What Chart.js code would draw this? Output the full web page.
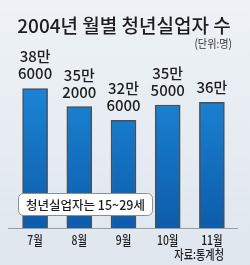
<!DOCTYPE html>
<html>
<head>
<meta charset="utf-8">
<script src="https://cdn.jsdelivr.net/npm/chart.js@4"></script>
<style>
  html, body { margin: 0; padding: 0; background: #e6ebf1; }
  #wrap { width: 250px; height: 265px; position: relative; }
</style>
</head>
<body>
<div id="wrap"><canvas id="chart" width="250" height="265"></canvas></div>
<script>
const months = ['7월', '8월', '9월', '10월', '11월'];
const values = [386000, 352000, 326000, 355000, 360000];
const valueLabels = [['38만', '6000'], ['35만', '2000'], ['32만', '6000'], ['35만', '5000'], ['36만']];

const FONT = '"Noto Sans CJK KR", "Noto Sans", sans-serif';

// narrow text, like the condensed gothic in the original
function narrowText(c, text, x, y, sx) {
  c.save();
  c.translate(x, y);
  c.scale(sx, 1);
  c.fillText(text, 0, 0);
  c.restore();
}

const decor = {
  id: 'decor',
  beforeDraw(chart) {
    const c = chart.ctx;
    const g = c.createLinearGradient(0, 0, 0, chart.height);
    g.addColorStop(0, '#eef2f6');
    g.addColorStop(1, '#dfe6ee');
    c.save();
    c.fillStyle = g;
    c.fillRect(0, 0, chart.width, chart.height);

    c.fillStyle = '#1e1e1e';
    c.textAlign = 'center';
    c.textBaseline = 'middle';
    c.font = '500 19px ' + FONT;
    c.fillText('2004년 월별 청년실업자 수', 124, 26);
    c.font = '11.5px ' + FONT;
    c.textAlign = 'right';
    c.fillStyle = '#333';
    narrowText(c, '(단위:명)', 232, 44, 0.88);
    c.restore();
  },
  afterDatasetsDraw(chart) {
    const c = chart.ctx;
    const area = chart.chartArea;
    c.save();
    c.strokeStyle = '#9aa0a8';
    c.lineWidth = 1;
    c.beginPath();
    c.moveTo(8, Math.round(area.bottom) + 0.5);
    c.lineTo(238, Math.round(area.bottom) + 0.5);
    c.stroke();

    // value labels
    c.fillStyle = '#1e1e1e';
    c.textAlign = 'center';
    c.textBaseline = 'alphabetic';
    c.font = '500 15px ' + FONT;
    chart.getDatasetMeta(0).data.forEach((bar, i) => {
      const lines = valueLabels[i];
      lines.forEach((t, j) => {
        const y = bar.y - 9 - (lines.length - 1 - j) * 17;
        c.fillText(t, bar.x, y);
      });
    });

    // month labels from the x scale
    const xs = chart.scales.x;
    c.textBaseline = 'middle';
    c.font = '500 13px ' + FONT;
    xs.getLabels().forEach((lab, i) => {
      narrowText(c, lab, xs.getPixelForValue(i), 240, 0.8);
    });

    // note box
    const x = 18, y = 193, w = 134, h = 22, r = 5;
    c.beginPath();
    c.roundRect(x + 0.5, y + 0.5, w, h, r);
    c.fillStyle = '#ffffff';
    c.fill();
    c.strokeStyle = '#8a8f96';
    c.stroke();
    c.fillStyle = '#1e1e1e';
    c.textAlign = 'left';
    c.font = '500 12.5px ' + FONT;
    c.fillText('청년실업자는 15~29세', 26, y + h / 2 + 1);

    c.textAlign = 'right';
    c.font = '500 13px ' + FONT;
    narrowText(c, '자료:통계청', 224, 254, 0.78);
    c.restore();
  }
};

new Chart(document.getElementById('chart'), {
  type: 'bar',
  data: {
    labels: months,
    datasets: [{
      data: values,
      backgroundColor: (ctx) => {
        const a = ctx.chart.chartArea;
        if (!a) return '#1573c4';
        const g = ctx.chart.ctx.createLinearGradient(0, a.top, 0, a.bottom);
        g.addColorStop(0, '#1c86d6');
        g.addColorStop(1, '#0d5cab');
        return g;
      },
      borderColor: '#4a4f56',
      borderWidth: 1.5,
      borderSkipped: 'bottom',
      barThickness: 25
    }]
  },
  options: {
    responsive: false,
    animation: false,
    layout: { padding: { top: 81, left: 13, right: 16, bottom: 37 } },
    plugins: {
      legend: { display: false },
      tooltip: { enabled: false }
    },
    scales: {
      x: { display: false },
      y: {
        display: false,
        min: 124000,
        max: 400000
      }
    }
  },
  plugins: [decor]
});
</script>
</body>
</html>
